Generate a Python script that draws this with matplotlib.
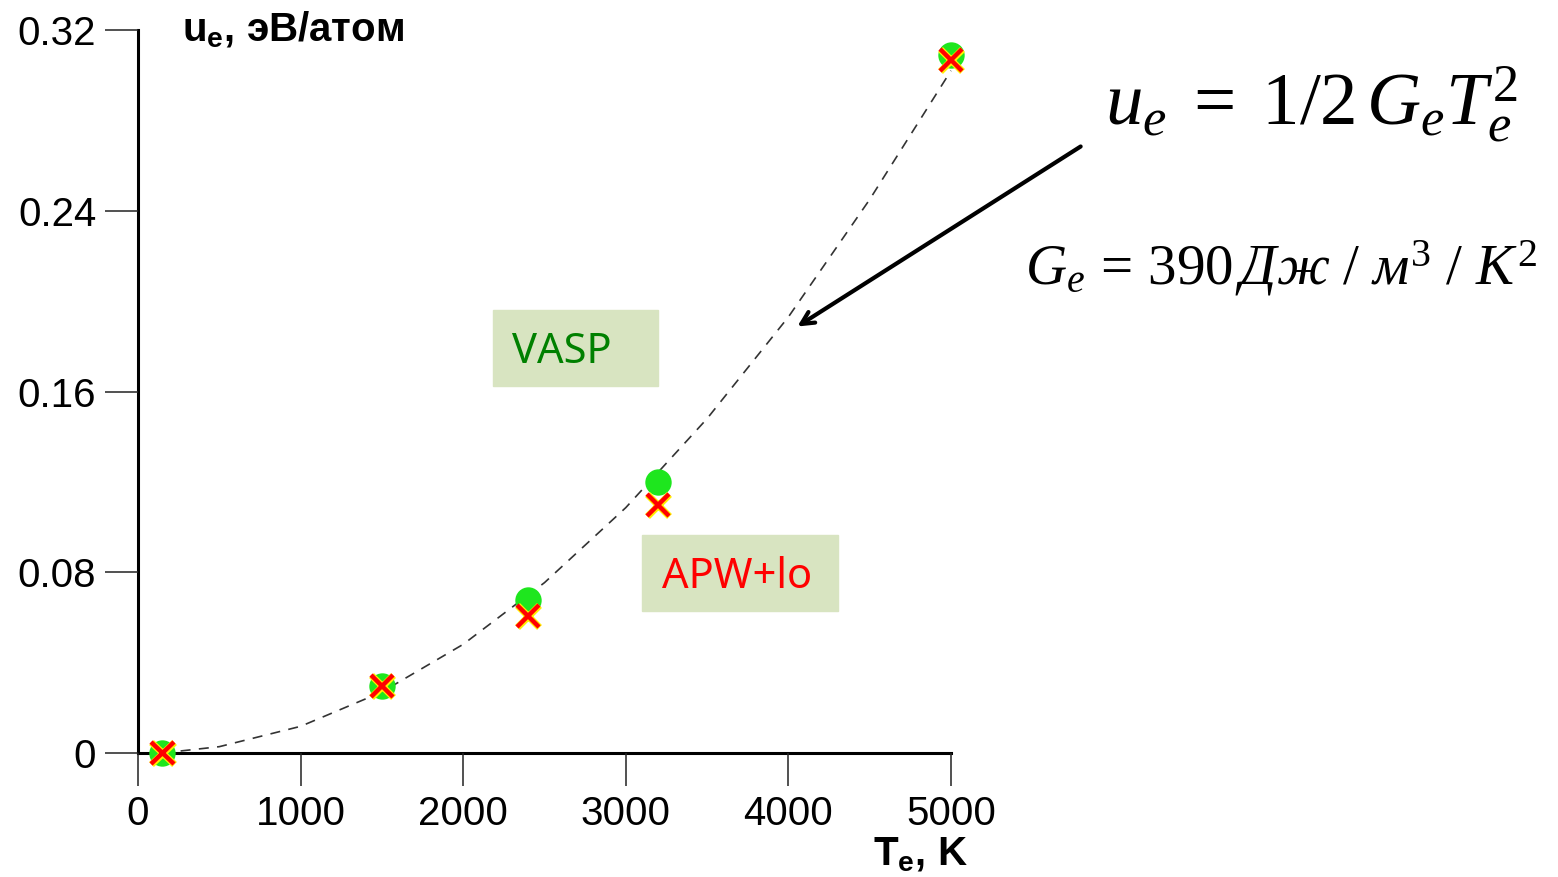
import matplotlib
matplotlib.use("Agg")
import matplotlib.pyplot as plt
import matplotlib.patheffects as pe

# electron temperature, K
temps = [150, 1500, 2400, 3200, 5000]
# electron energy, eV/atom
vasp = [0.0, 0.0296, 0.0677, 0.1199, 0.309]
apw_lo = [0.0, 0.0296, 0.0606, 0.1097, 0.3068]

# dashed fit curve
fit_t = [150, 500, 1000, 1500, 2000, 2500, 3000, 3500, 4000, 4500, 5000]
fit_u = [0.0, 0.0028, 0.0118, 0.0270, 0.0481, 0.0754, 0.1086, 0.148, 0.193, 0.245, 0.302]

xticks = [0, 1000, 2000, 3000, 4000, 5000]
yticks = [0, 0.08, 0.16, 0.24, 0.32]
ytick_labels = ["0", "0.08", "0.16", "0.24", "0.32"]

plt.rcParams["font.family"] = ["Liberation Sans", "DejaVu Sans"]
plt.rcParams["mathtext.fontset"] = "custom"
plt.rcParams["mathtext.rm"] = "Liberation Serif"
plt.rcParams["mathtext.it"] = "Liberation Serif:italic"
plt.rcParams["mathtext.bf"] = "Liberation Sans:bold"

fig = plt.figure(figsize=(15.58, 8.77), dpi=100)
ax = fig.add_axes([138 / 1558, 1 - 753 / 877, (951 - 138) / 1558, (753 - 30) / 877])

ax.plot(fit_t, fit_u, color="#333333", lw=1.2, ls=(0, (6, 5)), zorder=2, clip_on=False)
ax.plot(temps, vasp, "o", color="#1ee61e", ms=19, mec="none", zorder=3, clip_on=False)
ax.plot(temps, apw_lo, "x", color="#ff0000", ms=16, mew=3.2, zorder=4, clip_on=False,
        path_effects=[pe.Stroke(linewidth=5, foreground="#ffee00"), pe.Normal()])

ax.set_xlim(0, 5000)
ax.set_ylim(0, 0.32)
ax.set_xticks(xticks)
ax.set_yticks(yticks)
ax.set_yticklabels(ytick_labels)
ax.spines["top"].set_visible(False)
ax.spines["right"].set_visible(False)
for s in ["left", "bottom"]:
    ax.spines[s].set_linewidth(2.2)
    ax.spines[s].set_zorder(1)
ax.tick_params(direction="out", length=24, width=1.1, labelsize=29, color="#222222")
ax.tick_params(axis="y", pad=6)
ax.tick_params(axis="x", pad=6)

fig.text(182 / 1558, 1 - 30 / 877, r"$\mathbf{u_e}$, эВ/атом", fontsize=29,
         fontweight="bold", va="center", ha="left")
fig.text(968 / 1558, 1 - 855 / 877, r"$\mathbf{T_e}$, K", fontsize=29,
         fontweight="bold", va="center", ha="right")

# labelled boxes
fig.patches.append(plt.Rectangle((493 / 1558, 1 - 386 / 877), 165 / 1558, 76 / 877,
                                 transform=fig.transFigure, color="#d8e4c1", zorder=1))
fig.patches.append(plt.Rectangle((642 / 1558, 1 - 611 / 877), 196 / 1558, 76 / 877,
                                 transform=fig.transFigure, color="#d8e4c1", zorder=1))
fig.text(512 / 1558, 1 - 352 / 877, "VASP", family="Noto Sans", fontsize=30,
         color="#008000", va="center", ha="left")
fig.text(662 / 1558, 1 - 577 / 877, "APW+lo", family="Noto Sans", fontsize=30,
         color="#ff0000", va="center", ha="left")

fig.text(1105 / 1558, 1 - 105 / 877, r"$u_e\;=\;1/2\,G_e T_e^2$", fontsize=54,
         va="center", ha="left")
fig.text(1025 / 1558, 1 - 268 / 877,
         r"$G_e\,=\,390\,\mathit{Дж}\ /\ \mathit{м}^3\ /\ K^2$", fontsize=41,
         va="center", ha="left")

ax.annotate("", xy=(795 / 1558, 1 - 328 / 877), xytext=(1083 / 1558, 1 - 145 / 877),
            xycoords="figure fraction", textcoords="figure fraction",
            arrowprops=dict(arrowstyle="->,head_length=0.9,head_width=0.45",
                            lw=3, color="black"),
            annotation_clip=False)

fig.savefig("out.png", dpi=100)
